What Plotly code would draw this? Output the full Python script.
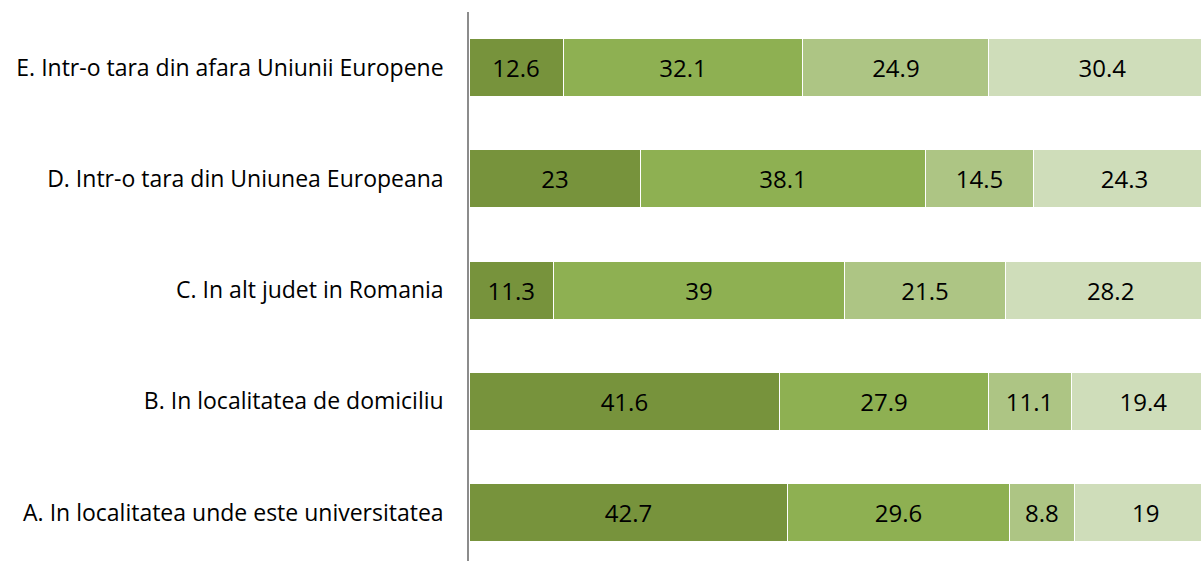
import plotly.graph_objects as go

categories = [
    "A. In localitatea unde este universitatea",
    "B. In localitatea de domiciliu",
    "C. In alt judet in Romania",
    "D. Intr-o tara din Uniunea Europeana",
    "E. Intr-o tara din afara Uniunii Europene",
]
series_names = ["S1", "S2", "S3", "S4"]
s1 = [42.7, 41.6, 11.3, 23, 12.6]
s2 = [29.6, 27.9, 39, 38.1, 32.1]
s3 = [8.8, 11.1, 21.5, 14.5, 24.9]
s4 = [19, 19.4, 28.2, 24.3, 30.4]
colors = ["#77933C", "#8EB052", "#ADC584", "#CFDDBA"]

FONT = "Open Sans, Lato, sans-serif"

fig = go.Figure()
for name, vals, col in zip(series_names, [s1, s2, s3, s4], colors):
    fig.add_trace(go.Bar(
        y=categories, x=vals, orientation="h", name=name,
        marker=dict(color=col, line=dict(color="white", width=1)),
        width=0.52,
        text=[f"{v:g}" for v in vals], textposition="inside",
        insidetextanchor="middle",
        textfont=dict(family=FONT, size=24, color="black"),
        hoverinfo="x+y",
    ))

fig.update_layout(
    barmode="stack",
    width=1201, height=561,
    margin=dict(l=469, r=0, t=12, b=0),
    paper_bgcolor="white", plot_bgcolor="white",
    showlegend=False,
    font=dict(family=FONT, size=23, color="black"),
    xaxis=dict(range=[0, 98.0], showgrid=False, zeroline=False, showticklabels=False,
               showline=False, fixedrange=True),
    yaxis=dict(categoryorder="array", categoryarray=categories,
               range=[-0.435, 4.5], showgrid=False, zeroline=False,
               showline=True, linecolor="#8C8C8C", linewidth=1.5,
               ticks="", ticklabelstandoff=19,
               tickfont=dict(family=FONT, size=23, color="black")),
    uniformtext=dict(mode=False),
)
fig.write_html("out.html", config={"displayModeBar": False},
               post_script="document.body.style.margin='0';document.body.style.overflow='hidden';")
